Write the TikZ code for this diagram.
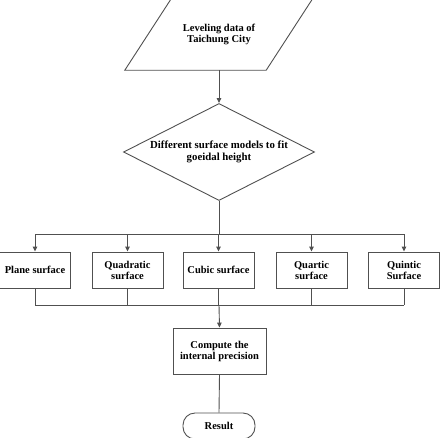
\documentclass[tikz,border=0pt]{standalone}
\usepackage{fontspec}
\setmainfont{Liberation Serif}
\usetikzlibrary{shapes.geometric,arrows.meta}

\tikzset{
  line/.style={draw={rgb,255:red,80;green,80;blue,80}, line width=0.9pt},
  arr/.style={line, -{Triangle[length=5pt,width=4.5pt]}},
  box/.style={line, rectangle, minimum width=71pt, minimum height=36pt, inner sep=1pt, align=center},
  txt/.style={font=\fontsize{10.5}{11}\selectfont\bfseries}
}

\begin{document}
\begin{tikzpicture}[x=1pt,y=1pt,yscale=-1]
\useasboundingbox (0,0) rectangle (442,437);

% Input data
\node (data) at (219,34) [txt, minimum width=141pt, minimum height=72pt, inner sep=0pt, align=center] {Leveling data of\\Taichung City};
\draw[line] ([xshift=-23.5pt]data.south west) -- ([xshift=23.5pt]data.north west) -- ([xshift=23.5pt]data.north east) -- ([xshift=-23.5pt]data.south east) -- cycle;
% Decision
\node (fit) at (219,152) [line, font=\fontsize{10.8}{11.3}\selectfont\bfseries, diamond, aspect=2, minimum width=191pt, minimum height=97pt, inner sep=0pt, align=center] {Different surface models to fit\\goeidal height};

% Surface models
\node (plane) at (35,270) [box, txt] {Plane surface};
\node (quadratic) at (127.5,270) [box, txt] {Quadratic\\surface};
\node (cubic) at (218.5,270) [box, txt] {Cubic surface};
\node (quartic) at (311.5,270) [box, txt] {Quartic\\surface};
\node (quintic) at (404,270) [box, txt] {Quintic\\Surface};

% Precision and result
\node (precision) at (219.5,351) [box, txt, minimum width=93pt, minimum height=46pt] {Compute the\\internal precision};
\node (result) at (219,426) [line, txt, rectangle, rounded corners=12pt, minimum width=72pt, minimum height=26pt, inner sep=1pt] {Result};

% Branch points
\coordinate (split) at (219,234);
\coordinate (join) at (219,305);

% Connectors
\draw[arr] (data.south) -- (fit.north);
\draw[line] (fit.south) -- (split);
\draw[line] (split -| plane) -- (split -| quintic);
\foreach \m in {plane,quadratic,cubic,quartic,quintic}{
  \draw[arr] (split -| \m) -- (\m.north);
  \draw[line] (\m.south) -- (join -| \m);
}
\draw[line] (join -| plane) -- (join -| quintic);
\draw[arr] (join) -- (precision.north);
\draw[line] (precision.south) -- (result.north);

\end{tikzpicture}
\end{document}
